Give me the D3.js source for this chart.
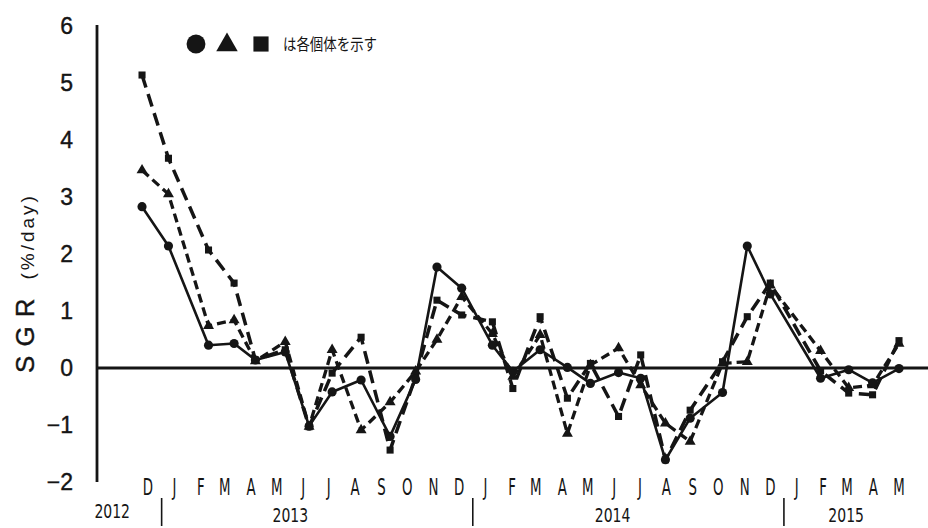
<!DOCTYPE html>
<html>
<head>
<meta charset="utf-8">
<script src="https://cdn.jsdelivr.net/npm/d3@7"></script>
<style>
  html, body { margin: 0; padding: 0; background: #fff; }
  svg { display: block; }
</style>
</head>
<body>
<svg id="chart" width="928" height="528"></svg>
<script>
// Sampling dates (one measurement per visit)
const sampleDates = [
  "2012-12-09", "2013-01-09", "2013-02-25", "2013-03-27", "2013-04-21", "2013-05-26",
  "2013-06-23", "2013-07-20", "2013-08-23", "2013-09-26", "2013-10-26", "2013-11-20",
  "2013-12-19", "2014-01-24", "2014-02-17", "2014-03-21", "2014-04-22", "2014-05-19",
  "2014-06-21", "2014-07-17", "2014-08-15", "2014-09-13", "2014-10-21", "2014-11-19",
  "2014-12-16", "2015-02-13", "2015-03-18", "2015-04-15", "2015-05-16"
];

// SGR (%/day) of each individual
const circleSGR = [
  2.83, 2.14, 0.40, 0.43, 0.14, 0.28, -1.02, -0.42, -0.21, -1.20, -0.20, 1.77,
  1.40, 0.40, -0.06, 0.32, 0.01, -0.27, -0.08, -0.18, -1.61, -0.88, -0.43, 2.14,
  1.30, -0.18, -0.03, -0.26, -0.01
];
const triangleSGR = [
  3.47, 3.05, 0.74, 0.84, 0.12, 0.46, -1.03, 0.32, -1.09, -0.60, -0.06, 0.50,
  1.25, 0.60, -0.15, 0.58, -1.15, 0.05, 0.35, -0.30, -0.97, -1.29, 0.08, 0.11,
  1.45, 0.30, -0.35, -0.30, 0.43
];
const squareSGR = [
  5.14, 3.68, 2.07, 1.49, 0.14, 0.32, -1.03, -0.09, 0.54, -1.44, -0.15, 1.19,
  0.93, 0.81, -0.36, 0.90, -0.53, 0.08, -0.85, 0.23, -1.61, -0.74, 0.11, 0.90,
  1.49, -0.05, -0.44, -0.47, 0.48
];

// Axis labels
const yTicks = [-2, -1, 0, 1, 2, 3, 4, 5, 6];
const monthLabels = ["D","J","F","M","A","M","J","J","A","S","O","N",
                     "D","J","F","M","A","M","J","J","A","S","O","N",
                     "D","J","F","M","A","M"];
const yearLabels = ["2012", "2013", "2014", "2015"];
const yearLabelDates = ["2012-11-04", "2013-06-01", "2014-06-14", "2015-03-15"];
const yearBreaks = ["2013-01-01", "2014-01-01", "2015-01-01"];

const parse = d3.timeParse("%Y-%m-%d");
const ink = "#151515";

const svg = d3.select("#chart");

const x = d3.scaleTime()
  .domain([new Date(2012, 11, 16), new Date(2015, 4, 16)])
  .range([148, 899]);
const y = d3.scaleLinear().domain([-2, 6]).range([482, 26]);

// y axis: plain vertical rule with labels on the left
const yAxis = d3.axisLeft(y).tickValues(yTicks).tickSize(0).tickPadding(24)
  .tickFormat(d => d < 0 ? "\u2212" + Math.abs(d) : String(d));
const gy = svg.append("g").attr("transform", "translate(97,0)").call(yAxis);
gy.select(".domain").attr("d", `M0,${y(6) - 1}V${y(-2)}`)
  .attr("stroke", ink).attr("stroke-width", 2.8);
gy.selectAll("text")
  .attr("font-family", "Liberation Sans, Arial, sans-serif")
  .attr("font-size", 23).attr("fill", ink)
  .attr("stroke", ink).attr("stroke-width", 0.4);

// zero line
svg.append("line")
  .attr("x1", 97).attr("x2", 928).attr("y1", y(0)).attr("y2", y(0))
  .attr("stroke", ink).attr("stroke-width", 2.8);

// y axis title
svg.append("text")
  .attr("transform", `translate(34,${283}) rotate(-90)`)
  .attr("text-anchor", "middle")
  .attr("font-family", "Liberation Sans, Arial, sans-serif")
  .attr("fill", ink)
  .call(t => {
    t.append("tspan").attr("font-size", 26).attr("letter-spacing", 9)
      .attr("stroke", ink).attr("stroke-width", 0.4).text("SGR");
    t.append("tspan").attr("font-size", 19).attr("letter-spacing", 3).attr("dx", 10).text("(%/day)");
  });

// month labels (horizontally condensed)
const monthStart = new Date(2012, 11, 16);
svg.append("g").selectAll("text")
  .data(monthLabels)
  .join("text")
  .attr("transform", (d, i) => `translate(${x(d3.timeMonth.offset(monthStart, i))},495) scale(0.58,1)`)
  .attr("text-anchor", "middle")
  .attr("font-family", "DejaVu Sans, sans-serif")
  .attr("font-size", 23)
  .attr("fill", ink)
  .text(d => d);

// year labels and separators
svg.append("g").selectAll("text")
  .data(yearLabels)
  .join("text")
  .attr("transform", (d, i) => `translate(${x(parse(yearLabelDates[i]))},${i === 0 ? 518 : 522}) scale(0.7,1)`)
  .attr("text-anchor", "middle")
  .attr("font-family", "DejaVu Sans, sans-serif")
  .attr("font-size", 20)
  .attr("fill", ink)
  .text(d => d);

svg.append("g").selectAll("line")
  .data(yearBreaks)
  .join("line")
  .attr("x1", d => x(parse(d))).attr("x2", d => x(parse(d)))
  .attr("y1", 498).attr("y2", 526)
  .attr("stroke", ink).attr("stroke-width", 1.6);

// series
const dates = sampleDates.map(parse);
const series = [
  { values: squareSGR, dash: "13,7", width: 3.5, symbol: d3.symbolSquare, size: 50 },
  { values: triangleSGR, dash: "9,5", width: 3.3, symbol: d3.symbolTriangle, size: 52 },
  { values: circleSGR, dash: null, width: 2.6, symbol: d3.symbolCircle, size: 66 }
];

const line = d3.line()
  .x(d => x(d.date))
  .y(d => y(d.v));

series.forEach(s => {
  const pts = s.values.map((v, i) => ({ date: dates[i], v }));
  svg.append("path")
    .datum(pts)
    .attr("d", line)
    .attr("fill", "none")
    .attr("stroke", ink)
    .attr("stroke-width", s.width)
    .attr("stroke-dasharray", s.dash)
    .attr("stroke-linejoin", "round");
  svg.append("g").selectAll("path")
    .data(pts)
    .join("path")
    .attr("transform", d => `translate(${x(d.date)},${y(d.v)})`)
    .attr("d", d3.symbol().type(s.symbol).size(s.size))
    .attr("fill", ink);
});

// legend
const lg = svg.append("g");
lg.append("path").attr("transform", "translate(196,44)")
  .attr("d", d3.symbol().type(d3.symbolCircle).size(280)).attr("fill", ink);
lg.append("path").attr("transform", "translate(227,45)")
  .attr("d", d3.symbol().type(d3.symbolTriangle).size(200)).attr("fill", ink);
lg.append("path").attr("transform", "translate(261,44)")
  .attr("d", d3.symbol().type(d3.symbolSquare).size(230)).attr("fill", ink);
lg.append("text")
  .attr("x", 283).attr("y", 50)
  .attr("font-family", "Noto Sans CJK JP, sans-serif")
  .attr("font-size", 16)
  .attr("textLength", 94)
  .attr("lengthAdjust", "spacingAndGlyphs")
  .attr("fill", ink)
  .text("は各個体を示す");
</script>
</body>
</html>
